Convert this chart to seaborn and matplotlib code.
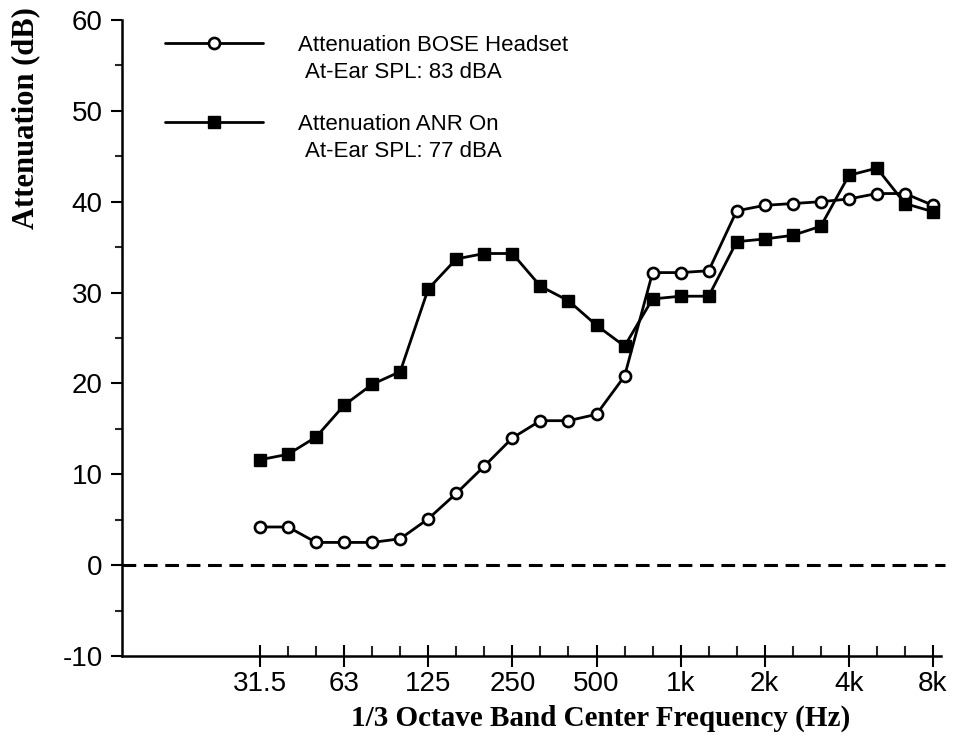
import numpy as np
import pandas as pd
import matplotlib
matplotlib.use("Agg")
import matplotlib.pyplot as plt
import seaborn as sns

# 1/3 octave band centre frequencies (Hz)
bands = ["31.5", "40", "50", "63", "80", "100", "125", "160", "200", "250",
         "315", "400", "500", "630", "800", "1k", "1.25k", "1.6k", "2k",
         "2.5k", "3.15k", "4k", "5k", "6.3k", "8k"]
tick_labels = ["31.5", "63", "125", "250", "500", "1k", "2k", "4k", "8k"]

bose_headset = [4.2, 4.2, 2.5, 2.5, 2.5, 2.9, 5.1, 7.9, 10.9, 14.0,
                15.9, 15.9, 16.6, 20.8, 32.2, 32.2, 32.4, 39.0, 39.6,
                39.8, 40.0, 40.3, 40.9, 40.9, 39.6]
anr_on = [11.6, 12.2, 14.1, 17.6, 19.9, 21.3, 30.4, 33.7, 34.3, 34.3,
          30.7, 29.1, 26.4, 24.1, 29.3, 29.6, 29.6, 35.6, 35.9,
          36.3, 37.3, 42.9, 43.7, 39.8, 38.9]

label_bose = "Attenuation BOSE Headset"
sub_bose = "At-Ear SPL: 83 dBA"
label_anr = "Attenuation ANR On"
sub_anr = "At-Ear SPL: 77 dBA"

df = pd.DataFrame({"band": bands,
                   "pos": np.arange(len(bands)),
                   "bose": bose_headset,
                   "anr": anr_on})

sns.set_style("ticks")
plt.rcParams["font.family"] = ["Liberation Sans", "DejaVu Sans"]
plt.rcParams["text.color"] = "black"
plt.rcParams["axes.labelcolor"] = "black"
plt.rcParams["axes.unicode_minus"] = False

W, H = 954, 739
fig = plt.figure(figsize=(W / 100, H / 100), dpi=100)
ax = fig.add_axes([122 / W, 83 / H, (941 - 122) / W, (656 - 20) / H])

sns.lineplot(data=df, x="pos", y="bose", ax=ax, color="black", linewidth=2,
             marker="o", markersize=8, markerfacecolor="white",
             markeredgecolor="black", markeredgewidth=1.9, label=label_bose)
sns.lineplot(data=df, x="pos", y="anr", ax=ax, color="black", linewidth=2,
             marker="s", markersize=9, markerfacecolor="black",
             markeredgecolor="black", markeredgewidth=1, label=label_anr)

# x scale: index of 1/3 octave band, 31.5 Hz at pixel 260, 8 kHz at 933
x_left = (122 - 260) / ((933 - 260) / 24)
x_right = (941 - 260) / ((933 - 260) / 24)
ax.set_xlim(x_left, x_right)
ax.set_ylim(-10, 60)

ax.axhline(0, xmin=0, xmax=1.005, color="black", linewidth=2.2,
           linestyle=(0, (4.5, 2.5)), clip_on=False, zorder=1)

major_pos = [bands.index(t) for t in tick_labels]
ax.set_xticks(major_pos)
ax.set_xticklabels(tick_labels)
ax.set_xticks(np.arange(len(bands)), minor=True)
ax.set_yticks(np.arange(-10, 61, 10))
ax.set_yticks(np.arange(-10, 61, 5), minor=True)

ax.tick_params(axis="x", which="major", direction="inout", length=16,
               width=1.5, labelsize=20, pad=3, colors="black")
ax.tick_params(axis="x", which="minor", direction="in", length=7,
               width=1.5)
ax.tick_params(axis="y", which="major", direction="out", length=8,
               width=1.5, labelsize=20, pad=6, colors="black")
ax.tick_params(axis="y", which="minor", direction="out", length=5,
               width=1.5)

for s in ["top", "right"]:
    ax.spines[s].set_visible(False)
for s in ["left", "bottom"]:
    ax.spines[s].set_linewidth(1.8)
    ax.spines[s].set_color("black")

serif = ["Liberation Serif", "DejaVu Serif"]
ax.set_xlabel("1/3 Octave Band Center Frequency (Hz)", family=serif,
              fontweight="bold", fontsize=21)
ax.xaxis.set_label_coords(0.584, -0.077)
ax.set_ylabel("Attenuation (dB)", family=serif, fontweight="bold",
              fontsize=22)
ax.yaxis.set_label_coords(-0.1, 0.846)

leg_fs = 16
leg = ax.legend(loc="upper left", bbox_to_anchor=(165 / W, 1 - 35 / H),
                bbox_transform=fig.transFigure, frameon=False,
                fontsize=leg_fs, handlelength=98 / (leg_fs * 100 / 72),
                handletextpad=35 / (leg_fs * 100 / 72),
                labelspacing=2.6, borderpad=0, borderaxespad=0)
for t in leg.get_texts():
    t.set_color("black")

fig.canvas.draw()
renderer = fig.canvas.get_renderer()
for t, sub in zip(leg.get_texts(), [sub_bose, sub_anr]):
    bb = t.get_window_extent(renderer)
    fig.text((bb.x0 + 7) / W, (bb.y0 - 27) / H, sub, fontsize=leg_fs,
             va="bottom", ha="left", color="black")

fig.savefig("out.png", dpi=100)
